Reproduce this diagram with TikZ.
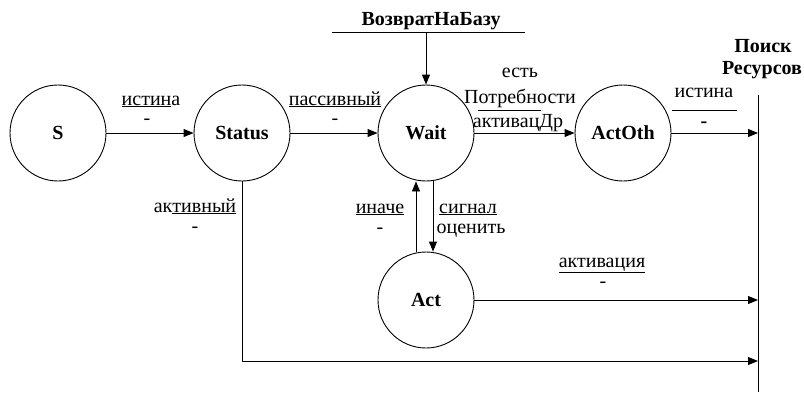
\documentclass[tikz,border=0pt]{standalone}
\usepackage{fontspec}
\setmainfont{Liberation Serif}
\usetikzlibrary{arrows.meta}
\begin{document}
\begin{tikzpicture}[x=1pt,y=-1pt,
  line width=0.9pt,
  state/.style={draw,circle,minimum size=96pt,inner sep=0pt,
    font=\fontsize{20}{22}\selectfont\bfseries},
  lbl/.style={anchor=base,inner sep=0pt,font=\fontsize{20}{22}\selectfont},
  blbl/.style={lbl,font=\fontsize{20}{22}\selectfont\bfseries},
  arr/.style={-{Triangle[length=10pt,width=8pt]}}]
\useasboundingbox (0,0) rectangle (804,397);

% states
\node[state] (S)      at (58,133)  {S};
\node[state] (Status) at (242,133) {Status};
\node[state] (Wait)   at (426,133) {Wait};
\node[state] (ActOth) at (623,133) {ActOth};
\node[state] (Act)    at (426,300) {Act};

% resource search bar on the right
\coordinate (barTop) at (758,95);
\coordinate (barBot) at (758,392);
\draw (barTop) -- (barBot);
\node[blbl] (poisk) at (763,52) {Поиск};
\node[blbl] (res)   at (762,74) {Ресурсов};

% return-to-base input
\node[blbl] (ret) at (431,25) {ВозвратНаБазу};
\coordinate (retL) at (332,32);
\coordinate (retR) at (525,32);
\coordinate (retM) at (426,32);
\draw (retL) -- (retR);
\draw[arr] (retM) -- (Wait.north);

% transitions
\draw[arr] (S) -- (Status);
\node[lbl] (t1a) at (151,105) {\underline{истин}а};
\node[lbl] (t1b) at (147,124) {-};

\draw[arr] (Status) -- (Wait);
\node[lbl] (t2a) at (335,105) {\underline{пассивный}};
\node[lbl] (t2b) at (335,124) {-};

\draw[arr] (Wait) -- (ActOth);
\node[lbl] (t3a) at (520,77)  {есть};
\node[lbl] (t3b) at (520,103) {Потребности};
\coordinate (t3L) at (478,110);
\coordinate (t3R) at (541,110);
\draw (t3L) -- (t3R);
\node[lbl] (t3c) at (518,127) {активацДр};

\draw[arr] (ActOth.east) -- (ActOth.east -| barTop);
\node[lbl] (t4a) at (704,97) {истина};
\coordinate (t4L) at (672,110);
\coordinate (t4R) at (737,110);
\draw (t4L) -- (t4R);
\node[lbl] (t4b) at (704,127) {\textbf{-}};

\draw[arr] ([xshift=-10pt]Act.north) -- ([xshift=-10pt]Wait.south);
\node[lbl] (t5a) at (380,213) {\underline{иначе}};
\node[lbl] (t5b) at (380,233) {-};

\draw[arr] ([xshift=7pt]Wait.south) -- ([xshift=7pt]Act.north);
\node[lbl] (t6a) at (468,213) {\underline{сигнал}};
\node[lbl] (t6b) at (471,233) {оценить};

\draw[arr] (Act.east) -- (Act.east -| barTop);
\node[lbl] (t7a) at (602,267) {\underline{активация}};
\node[lbl] (t7b) at (603,287) {-};

\coordinate (botEnd) at (758,361);
\draw[arr] (Status.south) |- (botEnd);
\node[lbl] (t8a) at (195,212) {ак\underline{тивный}};
\node[lbl] (t8b) at (195,232) {-};
\end{tikzpicture}
\end{document}
